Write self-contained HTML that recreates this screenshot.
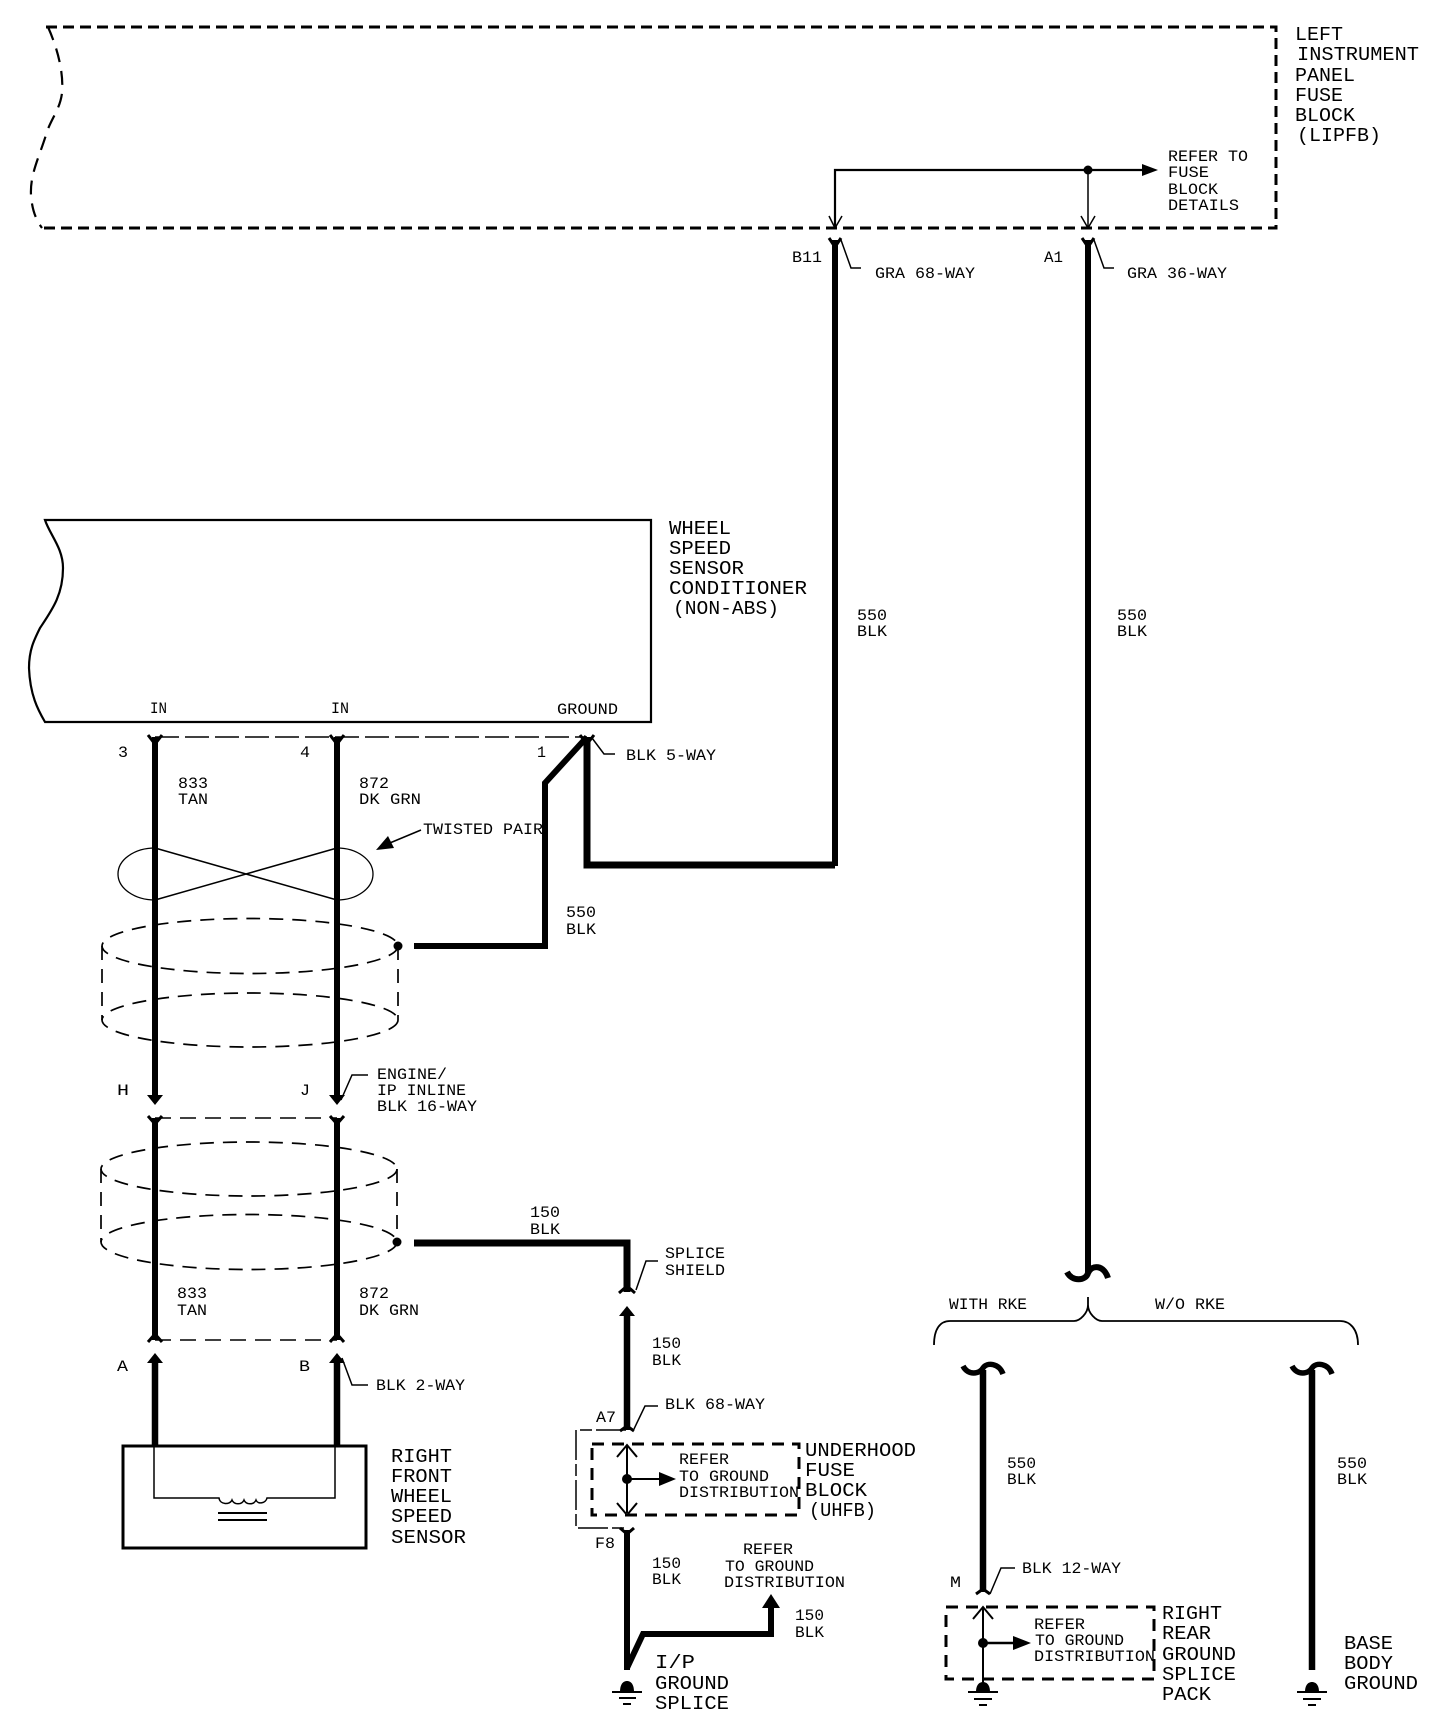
<!DOCTYPE html>
<html><head><meta charset="utf-8"><style>
html,body{margin:0;padding:0;background:#fff;width:1456px;height:1732px;overflow:hidden}
svg{display:block}
text{font-family:"Liberation Mono",monospace;fill:#000}
.b{font-size:19px}
.s{font-size:16px}
.t{fill:none;stroke:#000;stroke-width:1.5}
.d{fill:none;stroke:#000;stroke-width:1.8;stroke-dasharray:13 8}
.h{fill:none;stroke:#000;stroke-width:3;stroke-dasharray:11 6}
.w{fill:none;stroke:#000;stroke-width:6}
.m{fill:none;stroke:#000;stroke-width:2}
.c{fill:none;stroke:#000;stroke-width:1.7;stroke-dasharray:14 9}
</style></head><body>
<svg width="1456" height="1732" viewBox="0 0 1456 1732" xmlns="http://www.w3.org/2000/svg">
<rect width="1456" height="1732" fill="#fff"/>
<!-- LIPFB box -->
<path class="h" d="M46 27H1276V228H42"/>
<path class="c" d="M48 27C56 45 64 70 62 93C60 110 50 120 46 135C38 160 30 175 31 195C32 210 36 220 42 228" style="stroke-width:2.2"/>
<path class="m" d="M835 227V170H1146" style="stroke-width:2.2"/>
<path class="t" d="M1088 170V227"/>
<circle cx="1088" cy="170" r="4.5"/>
<path d="M1142 164L1158 170L1142 176Z"/>
<path class="t" d="M829 216L835 228L842 216M1081 216L1088 228L1095 216"/>
<text class="b" x="1295" y="40" textLength="48" lengthAdjust="spacingAndGlyphs">LEFT</text>
<text class="b" x="1297" y="60" textLength="122" lengthAdjust="spacingAndGlyphs">INSTRUMENT</text>
<text class="b" x="1295" y="81" textLength="60" lengthAdjust="spacingAndGlyphs">PANEL</text>
<text class="b" x="1295" y="101" textLength="48" lengthAdjust="spacingAndGlyphs">FUSE</text>
<text class="b" x="1295" y="121" textLength="60" lengthAdjust="spacingAndGlyphs">BLOCK</text>
<text class="b" x="1297" y="141" textLength="84" lengthAdjust="spacingAndGlyphs">(LIPFB)</text>
<text class="s" x="1168" y="161" textLength="80" lengthAdjust="spacingAndGlyphs">REFER TO</text>
<text class="s" x="1168" y="177" textLength="41" lengthAdjust="spacingAndGlyphs">FUSE</text>
<text class="s" x="1168" y="194" textLength="50" lengthAdjust="spacingAndGlyphs">BLOCK</text>
<text class="s" x="1168" y="210" textLength="71" lengthAdjust="spacingAndGlyphs">DETAILS</text>
<text class="s" x="792" y="262" textLength="30" lengthAdjust="spacingAndGlyphs">B11</text>
<text class="s" x="1044" y="262" textLength="19" lengthAdjust="spacingAndGlyphs">A1</text>
<text class="s" x="875" y="278" textLength="100" lengthAdjust="spacingAndGlyphs">GRA 68-WAY</text>
<text class="s" x="1127" y="278" textLength="100" lengthAdjust="spacingAndGlyphs">GRA 36-WAY</text>
<text class="s" x="857" y="620" textLength="30" lengthAdjust="spacingAndGlyphs">550</text>
<text class="s" x="857" y="636" textLength="30" lengthAdjust="spacingAndGlyphs">BLK</text>
<text class="s" x="1117" y="620" textLength="30" lengthAdjust="spacingAndGlyphs">550</text>
<text class="s" x="1117" y="636" textLength="30" lengthAdjust="spacingAndGlyphs">BLK</text>
<!-- wheel speed text -->
<text class="b" x="669" y="534" textLength="62" lengthAdjust="spacingAndGlyphs">WHEEL</text>
<text class="b" x="669" y="554" textLength="62" lengthAdjust="spacingAndGlyphs">SPEED</text>
<text class="b" x="669" y="574" textLength="75" lengthAdjust="spacingAndGlyphs">SENSOR</text>
<text class="b" x="669" y="594" textLength="138" lengthAdjust="spacingAndGlyphs">CONDITIONER</text>
<text class="b" x="673" y="614" textLength="106" lengthAdjust="spacingAndGlyphs">(NON-ABS)</text>
<text class="s" x="150" y="713" textLength="17" lengthAdjust="spacingAndGlyphs">IN</text>
<text class="s" x="331" y="713" textLength="18" lengthAdjust="spacingAndGlyphs">IN</text>
<text class="s" x="557" y="714" textLength="61" lengthAdjust="spacingAndGlyphs">GROUND</text>
<text class="s" x="118" y="757" textLength="10" lengthAdjust="spacingAndGlyphs">3</text>
<text class="s" x="300" y="757" textLength="10" lengthAdjust="spacingAndGlyphs">4</text>
<text class="s" x="537" y="757" textLength="9" lengthAdjust="spacingAndGlyphs">1</text>
<text class="s" x="626" y="760" textLength="90" lengthAdjust="spacingAndGlyphs">BLK 5-WAY</text>
<text class="s" x="178" y="788" textLength="30" lengthAdjust="spacingAndGlyphs">833</text>
<text class="s" x="178" y="804" textLength="30" lengthAdjust="spacingAndGlyphs">TAN</text>
<text class="s" x="359" y="788" textLength="30" lengthAdjust="spacingAndGlyphs">872</text>
<text class="s" x="359" y="804" textLength="62" lengthAdjust="spacingAndGlyphs">DK GRN</text>
<text class="s" x="423" y="834" textLength="120" lengthAdjust="spacingAndGlyphs">TWISTED PAIR</text>
<text class="s" x="566" y="917" textLength="30" lengthAdjust="spacingAndGlyphs">550</text>
<text class="s" x="566" y="934" textLength="30" lengthAdjust="spacingAndGlyphs">BLK</text>
<text class="s" x="117" y="1095" textLength="12" lengthAdjust="spacingAndGlyphs">H</text>
<text class="s" x="300" y="1095" textLength="10" lengthAdjust="spacingAndGlyphs">J</text>
<text class="s" x="377" y="1079" textLength="70" lengthAdjust="spacingAndGlyphs">ENGINE/</text>
<text class="s" x="377" y="1095" textLength="89" lengthAdjust="spacingAndGlyphs">IP INLINE</text>
<text class="s" x="377" y="1111" textLength="100" lengthAdjust="spacingAndGlyphs">BLK 16-WAY</text>
<text class="s" x="177" y="1298" textLength="30" lengthAdjust="spacingAndGlyphs">833</text>
<text class="s" x="177" y="1315" textLength="30" lengthAdjust="spacingAndGlyphs">TAN</text>
<text class="s" x="359" y="1298" textLength="30" lengthAdjust="spacingAndGlyphs">872</text>
<text class="s" x="359" y="1315" textLength="60" lengthAdjust="spacingAndGlyphs">DK GRN</text>
<text class="s" x="117" y="1371" textLength="11" lengthAdjust="spacingAndGlyphs">A</text>
<text class="s" x="299" y="1371" textLength="11" lengthAdjust="spacingAndGlyphs">B</text>
<text class="s" x="376" y="1390" textLength="89" lengthAdjust="spacingAndGlyphs">BLK 2-WAY</text>
<text class="b" x="391" y="1462" textLength="61" lengthAdjust="spacingAndGlyphs">RIGHT</text>
<text class="b" x="391" y="1482" textLength="61" lengthAdjust="spacingAndGlyphs">FRONT</text>
<text class="b" x="391" y="1502" textLength="61" lengthAdjust="spacingAndGlyphs">WHEEL</text>
<text class="b" x="391" y="1522" textLength="61" lengthAdjust="spacingAndGlyphs">SPEED</text>
<text class="b" x="391" y="1543" textLength="75" lengthAdjust="spacingAndGlyphs">SENSOR</text>
<!-- middle -->
<text class="s" x="530" y="1217" textLength="30" lengthAdjust="spacingAndGlyphs">150</text>
<text class="s" x="530" y="1234" textLength="30" lengthAdjust="spacingAndGlyphs">BLK</text>
<text class="s" x="665" y="1258" textLength="60" lengthAdjust="spacingAndGlyphs">SPLICE</text>
<text class="s" x="665" y="1275" textLength="60" lengthAdjust="spacingAndGlyphs">SHIELD</text>
<text class="s" x="652" y="1348" textLength="29" lengthAdjust="spacingAndGlyphs">150</text>
<text class="s" x="652" y="1365" textLength="29" lengthAdjust="spacingAndGlyphs">BLK</text>
<text class="s" x="665" y="1409" textLength="100" lengthAdjust="spacingAndGlyphs">BLK 68-WAY</text>
<text class="s" x="596" y="1422" textLength="20" lengthAdjust="spacingAndGlyphs">A7</text>
<text class="s" x="679" y="1464" textLength="50" lengthAdjust="spacingAndGlyphs">REFER</text>
<text class="s" x="679" y="1481" textLength="90" lengthAdjust="spacingAndGlyphs">TO GROUND</text>
<text class="s" x="679" y="1497" textLength="120" lengthAdjust="spacingAndGlyphs">DISTRIBUTION</text>
<text class="b" x="805" y="1456" textLength="111" lengthAdjust="spacingAndGlyphs">UNDERHOOD</text>
<text class="b" x="805" y="1476" textLength="50" lengthAdjust="spacingAndGlyphs">FUSE</text>
<text class="b" x="805" y="1496" textLength="62" lengthAdjust="spacingAndGlyphs">BLOCK</text>
<text class="b" x="809" y="1516" textLength="67" lengthAdjust="spacingAndGlyphs">(UHFB)</text>
<text class="s" x="595" y="1548" textLength="20" lengthAdjust="spacingAndGlyphs">F8</text>
<text class="s" x="652" y="1568" textLength="29" lengthAdjust="spacingAndGlyphs">150</text>
<text class="s" x="652" y="1584" textLength="29" lengthAdjust="spacingAndGlyphs">BLK</text>
<text class="s" x="743" y="1554" textLength="50" lengthAdjust="spacingAndGlyphs">REFER</text>
<text class="s" x="725" y="1571" textLength="89" lengthAdjust="spacingAndGlyphs">TO GROUND</text>
<text class="s" x="724" y="1587" textLength="121" lengthAdjust="spacingAndGlyphs">DISTRIBUTION</text>
<text class="s" x="795" y="1620" textLength="29" lengthAdjust="spacingAndGlyphs">150</text>
<text class="s" x="795" y="1637" textLength="29" lengthAdjust="spacingAndGlyphs">BLK</text>
<text class="b" x="655" y="1668" textLength="40" lengthAdjust="spacingAndGlyphs">I/P</text>
<text class="b" x="655" y="1689" textLength="74" lengthAdjust="spacingAndGlyphs">GROUND</text>
<text class="b" x="655" y="1709" textLength="74" lengthAdjust="spacingAndGlyphs">SPLICE</text>
<!-- right -->
<text class="s" x="949" y="1309" textLength="78" lengthAdjust="spacingAndGlyphs">WITH RKE</text>
<text class="s" x="1155" y="1309" textLength="70" lengthAdjust="spacingAndGlyphs">W/O RKE</text>
<text class="s" x="1007" y="1468" textLength="29" lengthAdjust="spacingAndGlyphs">550</text>
<text class="s" x="1007" y="1484" textLength="29" lengthAdjust="spacingAndGlyphs">BLK</text>
<text class="s" x="1337" y="1468" textLength="30" lengthAdjust="spacingAndGlyphs">550</text>
<text class="s" x="1337" y="1484" textLength="30" lengthAdjust="spacingAndGlyphs">BLK</text>
<text class="s" x="1022" y="1573" textLength="99" lengthAdjust="spacingAndGlyphs">BLK 12-WAY</text>
<text class="s" x="950" y="1587" textLength="11" lengthAdjust="spacingAndGlyphs">M</text>
<text class="s" x="1034" y="1629" textLength="51" lengthAdjust="spacingAndGlyphs">REFER</text>
<text class="s" x="1035" y="1645" textLength="89" lengthAdjust="spacingAndGlyphs">TO GROUND</text>
<text class="s" x="1034" y="1661" textLength="121" lengthAdjust="spacingAndGlyphs">DISTRIBUTION</text>
<text class="b" x="1162" y="1619" textLength="60" lengthAdjust="spacingAndGlyphs">RIGHT</text>
<text class="b" x="1162" y="1639" textLength="49" lengthAdjust="spacingAndGlyphs">REAR</text>
<text class="b" x="1162" y="1660" textLength="74" lengthAdjust="spacingAndGlyphs">GROUND</text>
<text class="b" x="1162" y="1680" textLength="74" lengthAdjust="spacingAndGlyphs">SPLICE</text>
<text class="b" x="1162" y="1700" textLength="49" lengthAdjust="spacingAndGlyphs">PACK</text>
<text class="b" x="1344" y="1649" textLength="49" lengthAdjust="spacingAndGlyphs">BASE</text>
<text class="b" x="1344" y="1669" textLength="49" lengthAdjust="spacingAndGlyphs">BODY</text>
<text class="b" x="1344" y="1689" textLength="74" lengthAdjust="spacingAndGlyphs">GROUND</text>
<!-- top wires -->
<path class="w" d="M835 240V866"/>
<path class="w" d="M1088 240V1273"/>
<path class="t" d="M829 238L835 247L841 238M1082 238L1088 247L1094 238" style="stroke-width:3"/>
<path class="t" d="M841 240L851 268H861M1094 240L1104 268H1114"/>
<!-- wheel conditioner -->
<path d="M45 520H651V722H45C38 710 30 695 29 668C29 650 34 640 40 628C52 610 63 595 63 568C63 548 50 535 45 520Z" fill="none" stroke="#000" stroke-width="2.2"/>
<path class="d" d="M155 737H587" style="stroke-dasharray:24 6;stroke-width:1.4"/>
<path class="w" d="M155 737V1098M337 737V1098" style="stroke-width:6"/>
<path class="t" d="M148 735L155 744L162 735M330 735L337 744L344 735M580 735L587 744L594 735" style="stroke-width:3"/>
<path d="M147 1095H163L155 1105ZM329 1095H345L337 1105Z"/>
<path class="w" d="M587 737V865H835" style="stroke-width:7"/>
<path class="w" d="M414 946H545V783L587 737" style="stroke-width:6"/>
<path class="t" d="M592 738L604 754H615"/>
<!-- twisted pair -->
<path class="t" d="M155 848L337 900M155 900L337 848"/>
<path class="t" d="M155 848A37 26 0 0 0 155 900M337 848A36 26 0 0 1 337 900" style="stroke-width:1.3"/>
<path class="t" d="M421 830L385 845"/>
<path d="M376 850L388 836L394 848Z"/>
<!-- shield 1 -->
<ellipse class="c" cx="250" cy="946" rx="148" ry="27.5"/>
<ellipse class="c" cx="250" cy="1020" rx="148" ry="27"/>
<path class="c" d="M102 946V1020M398 946V1020"/>
<circle cx="398" cy="946" r="4.5"/>
<!-- lower twist -->
<path class="d" d="M155 1118H337M155 1340H337" style="stroke-dasharray:16 9;stroke-width:1.4"/>
<path class="w" d="M155 1118V1340M337 1118V1340"/>
<path class="t" d="M148 1116L155 1124L162 1116M330 1116L337 1124L344 1116M148 1342L155 1334L162 1342M330 1342L337 1334L344 1342" style="stroke-width:3"/>
<ellipse class="c" cx="249" cy="1169" rx="148" ry="27"/>
<ellipse class="c" cx="249" cy="1242" rx="148" ry="27.5"/>
<path class="c" d="M101 1169V1242M397 1169V1242"/>
<circle cx="397" cy="1242" r="4.5"/>
<path class="t" d="M341 1100L352 1075H368M342 1358L352 1385H368"/>
<!-- sensor -->
<path class="w" d="M155 1360V1446M337 1360V1446" style="stroke-width:6.5"/>
<path d="M147 1363H163L155 1353ZM329 1363H345L337 1353Z"/>
<rect x="123" y="1446" width="243" height="102" fill="none" stroke="#000" stroke-width="3"/>
<path class="t" d="M154 1446V1498H219C220 1505 230 1505 232 1500C234 1505 242 1505 244 1500C246 1505 254 1505 256 1500C258 1505 266 1503 267 1498H335V1446"/>
<path class="m" d="M218 1513H267M218 1520H267"/>
<!-- middle wires -->
<path class="w" d="M414 1243H627V1292" style="stroke-width:7"/>
<path class="t" d="M619 1293L627 1286L635 1293" style="stroke-width:3"/>
<path class="t" d="M636 1290L646 1261H658"/>
<path class="w" d="M627 1312V1430" style="stroke-width:6.5"/>
<path d="M619 1316H635L627 1306Z"/>
<path class="t" d="M620 1431L627 1426L634 1431" style="stroke-width:3"/>
<path class="t" d="M634 1429L645 1406H658"/>
<path class="t" d="M626 1430H576V1528H626" style="stroke-dasharray:30 4 12 4"/>
<rect class="h" x="592" y="1444" width="207" height="71" style="stroke-dasharray:12 8"/>
<path class="m" d="M627 1445V1513"/>
<path class="m" d="M617 1457L627 1445L637 1457M617 1503L627 1515L637 1503"/>
<circle cx="627" cy="1479" r="5"/>
<path class="m" d="M627 1479H665"/>
<path d="M659 1472L676 1479L659 1486Z"/>
<path class="w" d="M627 1530V1670"/>
<path class="t" d="M620 1528L627 1534L634 1528" style="stroke-width:3"/>
<path class="w" d="M627 1668L643 1634H771V1602" style="stroke-width:6"/>
<path d="M762 1608H780L771 1594Z"/>
<!-- ground 1 -->
<path d="M620 1692C620 1683 624 1681 627 1681C630 1681 634 1683 634 1692Z"/>
<path class="m" d="M612 1692H642M619 1698H636M623 1704H631"/>
<!-- right side -->
<path class="w" d="M1067 1272C1072 1282 1086 1281 1088 1273C1092 1264 1104 1265 1108 1278" style="stroke-width:6"/>
<path class="t" d="M1088 1297V1305C1088 1313 1080 1321 1074 1321H950C940 1321 934 1329 934 1345M1088 1305C1088 1313 1096 1321 1102 1321H1340C1350 1321 1358 1329 1358 1345" style="stroke-width:1.8"/>
<path class="w" d="M983 1370V1592" style="stroke-width:6.5"/>
<path class="w" d="M1312 1370V1670" style="stroke-width:6.5"/>
<path class="w" d="M963 1366C968 1376 980 1374 983 1368C987 1362 999 1363 1003 1374" style="stroke-width:5.5"/>
<path class="w" d="M1292 1366C1297 1376 1309 1374 1312 1368C1316 1362 1328 1363 1332 1374" style="stroke-width:5.5"/>
<path class="t" d="M976 1594L983 1589L990 1594" style="stroke-width:3"/>
<path class="t" d="M990 1594L1001 1568H1015"/>
<rect class="h" x="946" y="1607" width="208" height="72" style="stroke-dasharray:12 8"/>
<path class="m" d="M983 1608V1684M973 1619L983 1607L993 1619"/>
<circle cx="983" cy="1643" r="5"/>
<path class="m" d="M983 1643H1018" style="stroke-width:2.5"/>
<path d="M1013 1636L1031 1643L1013 1650Z"/>
<path d="M976 1692C976 1684 980 1682 983 1682C986 1682 990 1684 990 1692Z"/>
<path class="m" d="M968 1692H998M974 1699H992M979 1705H987"/>
<path d="M1305 1692C1305 1684 1309 1682 1312 1682C1315 1682 1319 1684 1319 1692Z"/>
<path class="m" d="M1297 1692H1327M1303 1699H1321M1308 1705H1316"/>
</svg>
</body></html>
